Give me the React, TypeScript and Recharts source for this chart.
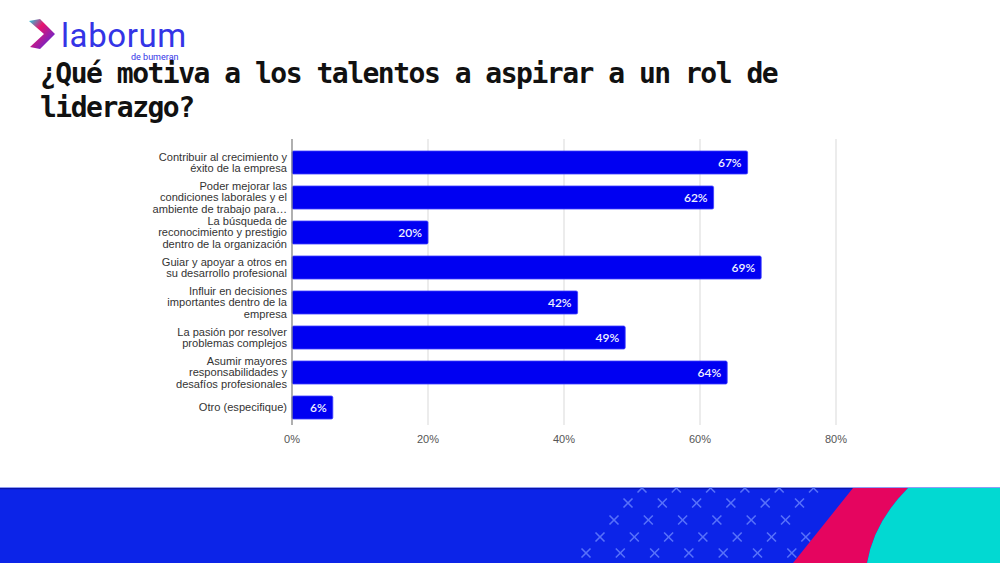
import React from 'react';
import { BarChart, Bar, XAxis, YAxis, CartesianGrid, LabelList } from 'recharts';

// categories as shown on the left axis (line breaks kept as in the source)
const categories = [
  'Contribuir al crecimiento y\néxito de la empresa',
  'Poder mejorar las\ncondiciones laborales y el\nambiente de trabajo para…',
  'La búsqueda de\nreconocimiento y prestigio\ndentro de la organización',
  'Guiar y apoyar a otros en\nsu desarrollo profesional',
  'Influir en decisiones\nimportantes dentro de la\nempresa',
  'La pasión por resolver\nproblemas complejos',
  'Asumir mayores\nresponsabilidades y\ndesafíos profesionales',
  'Otro (especifique)',
];

const percentages = [67, 62, 20, 69, 42, 49, 64, 6];

const xTicks = [0, 20, 40, 60, 80];

const chartData = categories.map((name, i) => ({ name, value: percentages[i] }));

const CategoryTick = (props: any) => {
  const { x, y, payload } = props;
  const lines: string[] = String(payload.value).split('\n');
  const lh = 11.4;
  const start = y - ((lines.length - 1) * lh) / 2;
  return (
    <text
      x={x}
      y={start}
      textAnchor="end"
      fill="#333"
      fontSize={11.1}
      fontFamily="'Liberation Sans', Arial, sans-serif"
    >
      {lines.map((l, i) => (
        <tspan key={i} x={x} dy={i === 0 ? '0.35em' : lh}>
          {l}
        </tspan>
      ))}
    </text>
  );
};

// decorative crosses in the footer band
const Crosses = () => {
  const marks: JSX.Element[] = [];
  const rows = [488, 503, 520, 537, 553, 569];
  rows.forEach((ry, r) => {
    for (let c = 0; c < 9; c++) {
      const cx = 642 - r * 14 + c * 34.3;
      // stop where the blue area meets the pink stripe
      const edge = 853 - ((ry - 488) * 60) / 75;
      if (cx > edge - 8 || cx < 575) continue;
      marks.push(
        <g key={`${r}-${c}`} stroke="#6a84ff" strokeWidth={1.6} opacity={0.8}>
          <line x1={cx - 4.5} y1={ry - 4.5} x2={cx + 4.5} y2={ry + 4.5} />
          <line x1={cx - 4.5} y1={ry + 4.5} x2={cx + 4.5} y2={ry - 4.5} />
        </g>
      );
    }
  });
  return <g>{marks}</g>;
};

export default function App() {
  return (
    <div
      style={{
        position: 'absolute',
        left: 0,
        top: 0,
        width: 1000,
        height: 563,
        overflow: 'hidden',
        background: '#fff',
      }}
    >
      <div style={{ position: 'absolute', left: 0, top: 0 }}>
        <BarChart
          width={1000}
          height={563}
          data={chartData}
          layout="vertical"
          margin={{ top: 139, right: 164, bottom: 108, left: 0 }}
        >
          <CartesianGrid horizontal={false} stroke="#e0e0e0" strokeWidth={1.2} />
          <XAxis
            type="number"
            domain={[0, 80]}
            ticks={xTicks}
            tickFormatter={(v) => `${v}%`}
            axisLine={false}
            tickLine={false}
            tickSize={0}
            tickMargin={10}
            height={30}
            tick={{ fill: '#555', fontSize: 11, fontFamily: "'Liberation Sans', Arial, sans-serif" }}
          />
          <YAxis
            type="category"
            dataKey="name"
            width={292}
            padding={{ top: 6, bottom: 0 }}
            axisLine={{ stroke: '#888', strokeWidth: 1.2 }}
            tickLine={false}
            tickSize={0}
            tickMargin={5}
            interval={0}
            tick={<CategoryTick />}
          />
          <Bar
            dataKey="value"
            fill="#0000f2"
            stroke="#3c3cff"
            strokeWidth={0.8}
            barSize={23}
            radius={1.5}
            isAnimationActive={false}
          >
            <LabelList
              dataKey="value"
              position="insideRight"
              offset={6}
              formatter={(v: any) => `${v}%`}
              fill="#eef0ff"
              fontSize={12}
              fontWeight={600}
              fontFamily="Lato, 'Open Sans', sans-serif"
            />
          </Bar>
        </BarChart>
      </div>

      {/* logo */}
      <svg width={220} height={70} style={{ position: 'absolute', left: 0, top: 0 }}>
        <defs>
          <linearGradient id="chev" x1="0" y1="0" x2="1" y2="1">
            <stop offset="0%" stopColor="#19d3e0" />
            <stop offset="35%" stopColor="#e8156e" />
            <stop offset="100%" stopColor="#3b2bf0" />
          </linearGradient>
        </defs>
        <path d="M29,21 L40,19 L55,34 L40,49 L30,47 L44,34 Z" fill="url(#chev)" />
        <text
          x={61}
          y={47}
          fontSize={33}
          letterSpacing={0.6}
          fontFamily="Roboto, 'Noto Sans', sans-serif"
          fontWeight={400}
          fill="#3434e6"
        >
          laborum
        </text>
        <text
          x={131}
          y={60}
          fontSize={9}
          fontFamily="Roboto, 'Noto Sans', sans-serif"
          fill="#3434e6"
        >
          de bumeran
        </text>
      </svg>

      {/* title */}
      <div
        style={{
          position: 'absolute',
          left: 40,
          top: 57,
          fontFamily: "'DejaVu Sans Mono', monospace",
          fontWeight: 'bold',
          fontSize: 28,
          letterSpacing: -1.5,
          lineHeight: '34px',
          color: '#111',
          whiteSpace: 'nowrap',
        }}
      >
        ¿Qué motiva a los talentos a aspirar a un rol de
        <br />
        liderazgo?
      </div>

      {/* footer band */}
      <svg width={1000} height={76} viewBox="0 487 1000 76" style={{ position: 'absolute', left: 0, top: 487 }}>
        <rect x={0} y={487} width={1000} height={76} fill="#0c24e8" />
        <rect x={0} y={487} width={1000} height={1} fill="#8f9cf5" />
        <rect x={0} y={488} width={860} height={1.2} fill="#0a14a8" />
        <Crosses />
        <path d="M853,488 L908,488 Q874,522 867,563 L793,563 Z" fill="#e5055f" />
        <path d="M908,488 L1000,488 L1000,563 L867,563 Q874,522 908,488 Z" fill="#02d9d2" />
      </svg>
    </div>
  );
}
